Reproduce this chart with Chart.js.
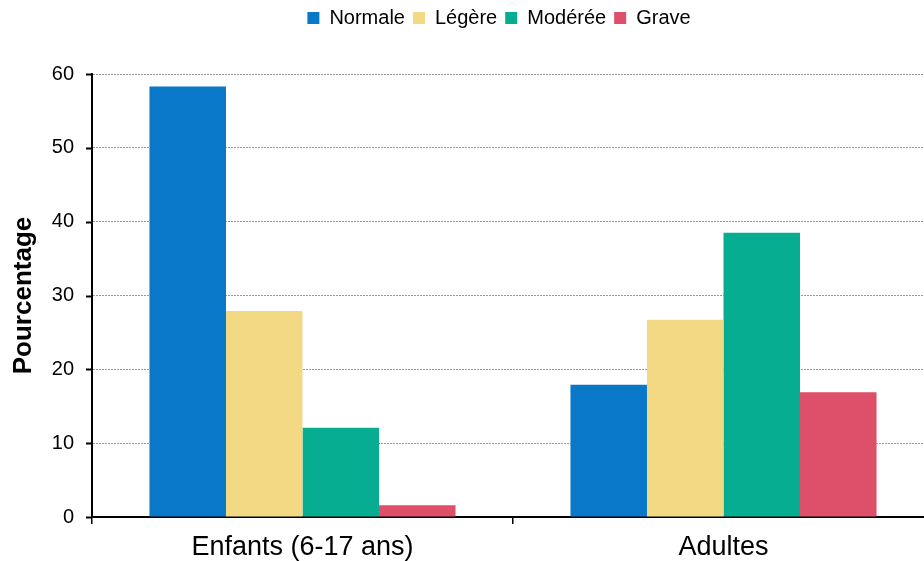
<!DOCTYPE html>
<html lang="fr">
  <head>
    <meta charset="UTF-8" />
    <title>Sévérité</title>
    <style>
      * {
        margin: 0;
        padding: 0;
      }
      body {
        width: 924px;
        height: 561px;
        overflow: hidden;
        background: white;
      }
    </style>
  </head>
  <body>
    <canvas id="myChart" width="944" height="561"></canvas>

    <script src="https://cdn.jsdelivr.net/npm/chart.js"></script>
    <script>
      const categories = ["Enfants (6-17 ans)", "Adultes"];
      const normale = [58.3, 17.9];
      const legere = [27.9, 26.7];
      const moderee = [12.1, 38.5];
      const grave = [1.6, 16.9];
      const yTicks = [0, 10, 20, 30, 40, 50, 60];

      const font = "'Liberation Sans', Arial, sans-serif";

      const bar = (label, data, color) => ({
        label: label,
        data: data,
        backgroundColor: color,
        borderWidth: 0,
        categoryPercentage: 0.727,
        barPercentage: 1,
      });

      // extra space under the legend, and nudge it right
      const legendGap = {
        id: "legendGap",
        beforeInit(chart) {
          const lg = chart.legend;
          const fit = lg.fit;
          lg.fit = function () {
            fit.bind(lg)();
            this.height += 36;
          };
          const draw = lg.draw;
          lg.draw = function () {
            const c = chart.ctx;
            c.save();
            c.translate(28, 0);
            draw.bind(lg)();
            c.restore();
          };
        },
      };

      // small black tick marks left of the y axis
      const yTickMarks = {
        id: "yTickMarks",
        afterDraw(chart) {
          const y = chart.scales.y;
          const c = chart.ctx;
          c.save();
          c.strokeStyle = "#000";
          c.lineWidth = 2;
          y.ticks.forEach((t) => {
            const py = Math.round(y.getPixelForValue(t.value)) + 0.5;
            c.beginPath();
            c.moveTo(y.right - 6, py);
            c.lineTo(y.right, py);
            c.stroke();
          });
          c.restore();
        },
      };

      const ctx = document.getElementById("myChart");
      new Chart(ctx, {
        type: "bar",
        data: {
          labels: categories,
          datasets: [
            bar("Normale", normale, "#0a78c8"),
            bar("Légère", legere, "#f3d983"),
            bar("Modérée", moderee, "#07ad90"),
            bar("Grave", grave, "#de4f6a"),
          ],
        },
        plugins: [legendGap, yTickMarks],
        options: {
          responsive: false,
          animation: false,
          layout: {
            padding: { top: 0, right: 10, left: 8, bottom: 0 },
          },
          plugins: {
            tooltip: { enabled: false },
            legend: {
              position: "top",
              labels: {
                boxWidth: 12,
                boxHeight: 12,
                padding: 8,
                color: "#000",
                font: { family: font, size: 20 },
              },
            },
          },
          scales: {
            x: {
              afterFit: (axis) => {
                axis.height = 44;
              },
              grid: {
                offset: true,
                drawOnChartArea: false,
                color: "#000",
                tickLength: 7,
                lineWidth: 1.5,
              },
              border: { color: "#000", width: 2 },
              ticks: {
                color: "#000",
                font: { family: font, size: 27, lineHeight: 1 },
                padding: 10,
              },
            },
            y: {
              min: 0,
              max: 60,
              afterFit: (axis) => {
                axis.width = 84;
              },
              afterBuildTicks: (axis) => {
                axis.ticks = yTicks.map((v) => ({ value: v }));
              },
              grid: {
                color: "#9a9a9a",
                drawTicks: false,
                lineWidth: 1,
              },
              border: { color: "#000", width: 2, dash: [2, 1] },
              ticks: {
                color: "#000",
                font: { family: font, size: 20 },
                padding: 18,
              },
              title: {
                display: true,
                text: "Pourcentage",
                color: "#000",
                font: { family: font, size: 26, weight: "bold" },
                padding: { top: 0, bottom: 0 },
              },
            },
          },
        },
      });
    </script>
  </body>
</html>
